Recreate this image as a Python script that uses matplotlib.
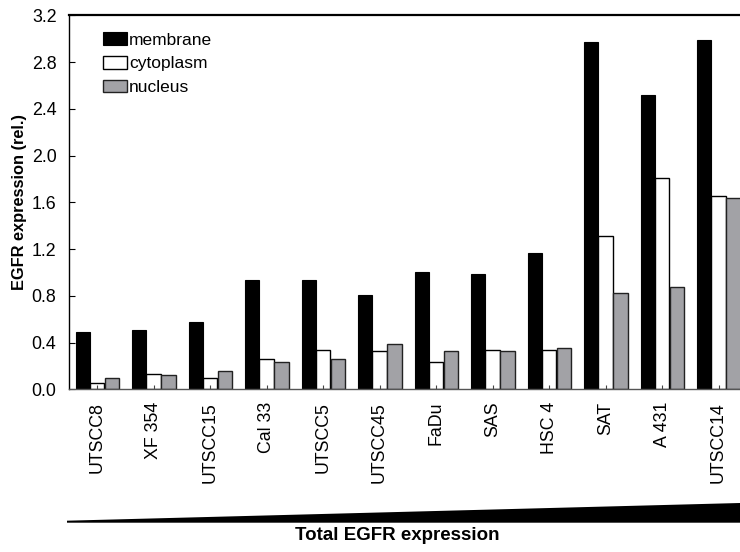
import matplotlib
matplotlib.use("Agg")
import matplotlib.pyplot as plt
from matplotlib import font_manager
from matplotlib.patches import Polygon
import numpy as np

plt.rcParams['font.family'] = ['Liberation Sans', 'DejaVu Sans']

# cell lines, sorted by total EGFR expression
cell_lines = ['UTSCC8', 'XF 354', 'UTSCC15', 'Cal 33', 'UTSCC5', 'UTSCC45',
              'FaDu', 'SAS', 'HSC 4', 'SAT', 'A 431', 'UTSCC14']
membrane = [0.49, 0.505, 0.575, 0.935, 0.935, 0.81, 1.0, 0.99, 1.17, 2.97, 2.515, 2.99]
cytoplasm = [0.05, 0.135, 0.095, 0.255, 0.34, 0.33, 0.235, 0.34, 0.34, 1.31, 1.81, 1.655]
nucleus = [0.095, 0.125, 0.155, 0.23, 0.255, 0.39, 0.33, 0.325, 0.355, 0.825, 0.875, 1.64]
yticks = [0.0, 0.4, 0.8, 1.2, 1.6, 2.0, 2.4, 2.8, 3.2]

W, H = 740, 552
fig = plt.figure(figsize=(7.4, 5.52), dpi=100)
ax = fig.add_axes([69 / W, 1 - 389.3 / H, 671 / W, 374 / H])

x = np.arange(len(cell_lines))
w = 0.25
ax.bar(x - 0.255, membrane, w, color='black', edgecolor='black', linewidth=0.8, label='membrane')
ax.bar(x, cytoplasm, w, color='white', edgecolor='black', linewidth=1.0, label='cytoplasm')
ax.bar(x + 0.265, nucleus, w, color='#a2a2a6', edgecolor='#222222', linewidth=1.0, label='nucleus')

ax.set_xlim(-0.496, 11.38)
ax.set_ylim(0, 3.2)
ax.set_yticks(yticks)
ax.set_yticklabels(['%.1f' % v for v in yticks])
ax.set_xticks(x)
ax.set_xticklabels(cell_lines, rotation=90, va='top', ha='center')
ax.tick_params(axis='both', direction='in', labelsize=12.8, pad=9)
ax.tick_params(axis='x', length=3, color='#444444')
ax.tick_params(axis='y', length=4)

ax.spines['right'].set_visible(False)
ax.spines['top'].set_linewidth(1.6)
ax.spines['left'].set_linewidth(1.0)
ax.spines['bottom'].set_linewidth(1.0)
ax.spines['bottom'].set_color('#555555')

ax.set_ylabel('EGFR expression (rel.)', fontsize=11.8, fontweight='bold', labelpad=3)

leg = ax.legend(loc='upper left', bbox_to_anchor=(0.05, 0.955), frameon=False,
                fontsize=12.5, handlelength=1.4, handleheight=0.75,
                handletextpad=0.12, labelspacing=0.48, borderpad=0, borderaxespad=0)

# wedge showing rising total EGFR expression
wedge = Polygon([(67 / W, 1 - 522.7 / H), (740 / W, 1 - 522.7 / H),
                 (740 / W, 1 - 503 / H), (67 / W, 1 - 520.7 / H)],
                closed=True, transform=fig.transFigure, facecolor='black', edgecolor='none')
fig.patches.append(wedge)

names = [f.name for f in font_manager.fontManager.ttflist]
if 'Liberation Sans Narrow' in names:
    fig.text(397 / W, 1 - 536 / H, 'Total EGFR expression', family='Liberation Sans Narrow',
             fontsize=15, fontweight='bold', ha='center', va='center')
else:
    fig.text(397 / W, 1 - 536 / H, 'Total EGFR expression',
             fontsize=13.5, fontweight='bold', ha='center', va='center')

fig.savefig('out.png', dpi=100)
